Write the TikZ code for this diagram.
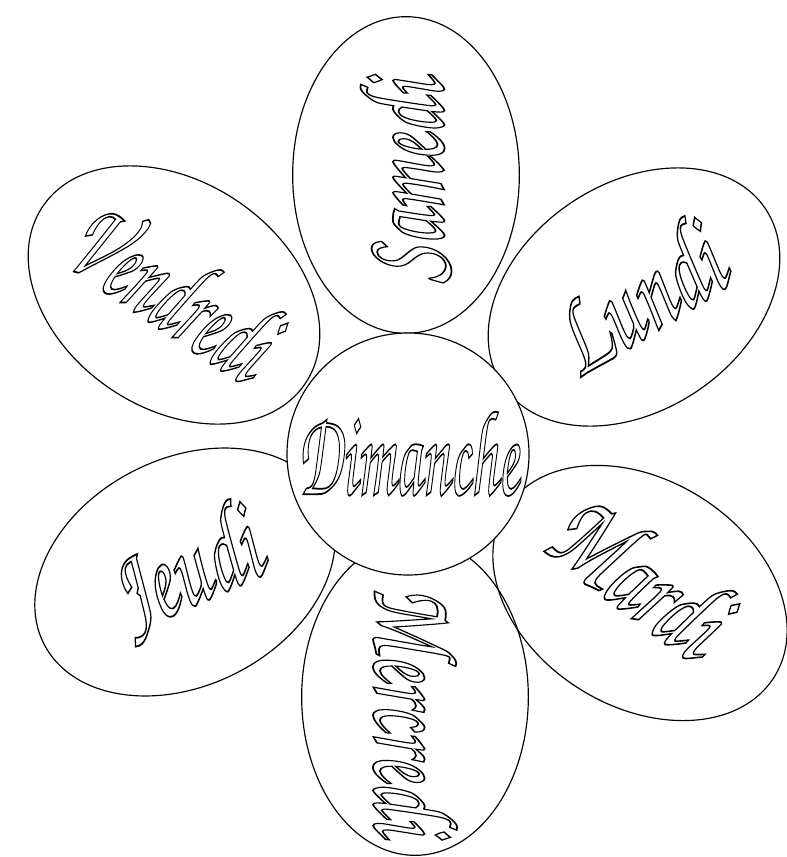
\documentclass[tikz,border=0pt]{standalone}
\usepackage{fontspec}
\newfontfamily\cursive{TeX Gyre Chorus}
\usetikzlibrary{shapes.geometric}
% outlined cursive word, squeezed sideways
\newcommand{\jour}[2][0.7]{\scalebox{#1}[1]{\special{pdf:literal direct 1 Tr 1.5 w}#2\special{pdf:literal direct 0 Tr}}}
\tikzset{
  petal/.style={draw, ellipse, line width=1pt, minimum width=9.5cm, minimum height=6.8cm, inner sep=0pt},
  hub/.style={draw, circle, fill=white, line width=1pt, minimum size=7.26cm, inner sep=0pt},
  mot/.style={inner sep=0pt},
}

\begin{document}
\begin{tikzpicture}[x=0.03cm, y=-0.03cm, font=\cursive\fontsize{104}{110}\selectfont]
        \useasboundingbox (0,0) rectangle (787,857);
        \node[petal, rotate=90]  (samedi)   at (406,175) {};
        \node[petal, rotate=34]  (lundi)    at (634,297) {};
        \node[petal, rotate=-32] (mardi)    at (640,593) {};
        \node[petal, rotate=-90] (mercredi) at (415,697) {};
        \node[petal, rotate=27]  (jeudi)    at (185,572) {};
        \node[petal, rotate=-34] (vendredi) at (174,295) {};
        \node[hub] (coeur) at (408,454) {};
        \node[mot, rotate=90]  (tsamedi)   at ([yshift=-0.2cm]samedi) {\jour[0.66]{Samedi}};
        \node[mot, rotate=32]  (tlundi)    at (lundi)    {\jour[0.68]{Lundi}};
        \node[mot, rotate=-37] (tmardi)    at ([yshift=0.6cm]mardi) {\jour[0.7]{Mardi}};
        \node[mot, rotate=-90] (tmercredi) at ([yshift=-0.4cm]mercredi) {\jour[0.65]{Mercredi}};
        \node[mot, rotate=24]  (tjeudi)    at (jeudi)    {\jour[0.66]{Jeudi}};
        \node[mot, rotate=-34] (tvendredi) at ([yshift=0.2cm]vendredi) {\jour[0.57]{Vendredi}};
        \node[mot] (dimanche) at (coeur) {\jour[0.51]{Dimanche}};
      \end{tikzpicture}
\end{document}
